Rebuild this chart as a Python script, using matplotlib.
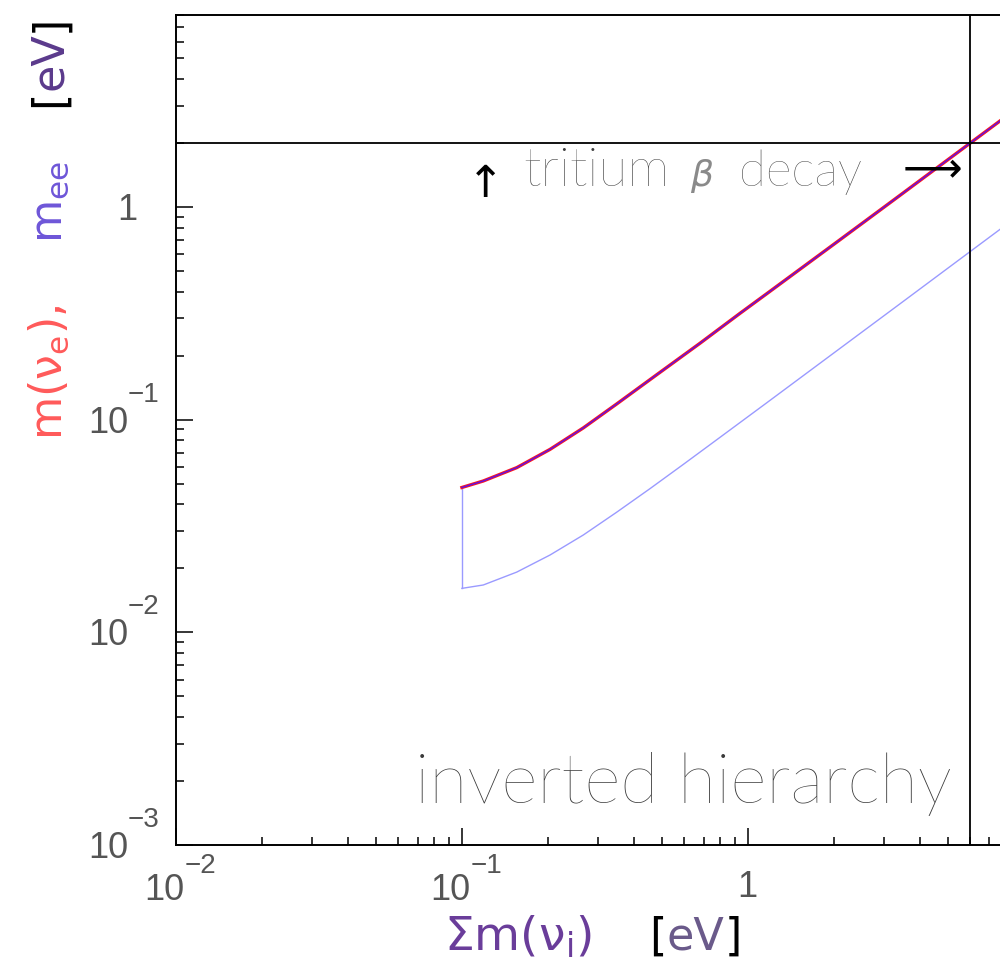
import numpy as np
import matplotlib
matplotlib.use("Agg")
import matplotlib.pyplot as plt
from matplotlib.ticker import LogLocator, NullFormatter

# inverted hierarchy
sum_upper = [0.1, 0.1188, 0.1555, 0.2033, 0.2659, 0.3476, 0.481, 0.681, 0.938, 1.164, 1.99, 2.62, 3.4, 5.97, 7.6, 8.0]
m_nue = [0.048, 0.0515, 0.0595, 0.0725, 0.0915, 0.1185, 0.163, 0.229, 0.316, 0.391, 0.665, 0.874, 1.133, 1.99, 2.533, 2.667]

sum_lower = [0.1, 0.1188, 0.1555, 0.2033, 0.2659, 0.3476, 0.4549, 0.5946, 0.738, 1.164, 1.99, 3.4, 5.98, 7.62, 8.0]
mee_min = [0.0161, 0.0167, 0.0192, 0.0231, 0.0287, 0.0367, 0.0474, 0.0616, 0.0763, 0.120, 0.205, 0.350, 0.616, 0.785, 0.824]

edge_sum = [0.1, 0.1]
edge_m = [0.048, 0.0161]

tritium_limit = 2.0      # eV
tritium_sum = 6.0        # eV, where m(nu_e) reaches the limit

x_major = [0.01, 0.1, 1]
y_major = [0.001, 0.01, 0.1, 1]

plt.rcParams['font.family'] = ['DejaVu Sans']
plt.rcParams['mathtext.fontset'] = 'dejavusans'
plt.rcParams['mathtext.default'] = 'regular'

W, H = 1000, 968
fig = plt.figure(figsize=(10, 9.68), dpi=100)
ax = fig.add_axes([176 / W, 123 / H, 830 / W, 830 / H])

ax.set_xscale('log')
ax.set_yscale('log')
ax.set_xlim(0.01, 8)
ax.set_ylim(0.001, 8)

# m_ee band outline and m(nu_e)
ax.plot(edge_sum, edge_m, color='#9a9aff', lw=1.0)
ax.plot(sum_lower, mee_min, color='#9a9aff', lw=1.0)
ax.plot(sum_upper, m_nue, color='#ff1a1a', lw=2.4)
ax.plot(sum_upper, m_nue, color='#4a10ff', lw=1.1, alpha=0.85)

ax.axhline(tritium_limit, color='black', lw=1.3)
ax.axvline(tritium_sum, color='black', lw=1.3)

for axis in (ax.xaxis, ax.yaxis):
    axis.set_major_locator(LogLocator(base=10, numticks=20))
    axis.set_minor_locator(LogLocator(base=10, subs=np.arange(2, 10), numticks=20))
    axis.set_minor_formatter(NullFormatter())

ax.tick_params(which='both', direction='in', top=False, right=False, color='black',
               labelbottom=False, labelleft=False)
ax.tick_params(which='major', length=12, width=1.1)
ax.tick_params(which='minor', length=6, width=1.1)
for sp in ax.spines.values():
    sp.set_linewidth(1.4)

# ROOT-style tick labels: "10" with a high exponent
tick_font = dict(family='Liberation Sans', color='#555555')
xt = ax.get_xaxis_transform()
for v in x_major:
    if v == 1:
        ax.annotate('1', xy=(v, 0), xycoords=xt, xytext=(0, -52), textcoords='offset pixels',
                    ha='center', va='baseline', fontsize=26, **tick_font)
    else:
        ax.annotate('10', xy=(v, 0), xycoords=xt, xytext=(8, -55), textcoords='offset pixels',
                    ha='right', va='baseline', fontsize=26, **tick_font)
        ax.annotate('\u2212%d' % -int(round(np.log10(v))), xy=(v, 0), xycoords=xt,
                    xytext=(9, -28), textcoords='offset pixels',
                    ha='left', va='baseline', fontsize=20, **tick_font)

yt = ax.get_yaxis_transform()
for v in y_major:
    if v == 1:
        ax.annotate('1', xy=(0, v), xycoords=yt, xytext=(-39, -13), textcoords='offset pixels',
                    ha='right', va='baseline', fontsize=26, **tick_font)
    else:
        ax.annotate('10', xy=(0, v), xycoords=yt, xytext=(-48, -13), textcoords='offset pixels',
                    ha='right', va='baseline', fontsize=26, **tick_font)
        ax.annotate('\u2212%d' % -int(round(np.log10(v))), xy=(0, v), xycoords=yt,
                    xytext=(-48, 18), textcoords='offset pixels',
                    ha='left', va='baseline', fontsize=20, **tick_font)

fig.canvas.draw()
rend = fig.canvas.get_renderer()


def place(s, x, y, size, color, rot=0, **kw):
    return fig.text(x / W, 1 - y / H, s, fontsize=size, color=color, rotation=rot,
                    rotation_mode='anchor', ha='left', va='baseline', **kw)


def extent(t, rot):
    bb = t.get_window_extent(rend)
    return bb.width if rot == 0 else bb.height


def fit(s, x0, x1, base, color, size0=30, **kw):
    # font size chosen so the text spans x0..x1 (pixels)
    t = place(s, x0, base, size0, color, **kw)
    t.set_fontsize(size0 * (x1 - x0) / extent(t, 0))
    return t


def chain(pieces, pos, base, size, rot=0):
    for s, c in pieces:
        if rot == 0:
            t = place(s, pos, base, size, c)
            pos += extent(t, rot)
        else:
            t = place(s, base, pos, size, c, rot)
            pos -= extent(t, rot)


# annotations
place('↑', 467, 197, 32, 'black')
fit('tritium', 523, 670, 186, '#3c3c3c', family='Lato', fontweight='light')
place(r'$\mathit{\beta}$', 690, 186, 26, '#8a8a8a')
fit('decay', 739, 862, 186, '#3c3c3c', family='Lato', fontweight='light')
fig.text(962 / W, 1 - 169 / H, '⟶', fontsize=30, color='black', ha='right', va='center')
fit('inverted hierarchy', 415, 952, 803, '#3a3a3a', family='Lato', fontweight='light')

# axis titles built from coloured pieces
chain([(r'$\Sigma m(\nu_i)$', '#6a3d9a')], 444, 950, 34)
chain([('[', 'black'), ('eV', '#6a5a8a'), (']', 'black')], 649, 950, 32)

chain([(r'$m(\nu_e),$', '#ff5a5a')], 440, 62, 32, rot=90)
chain([(r'$m_{ee}$', '#6e56d8')], 243, 62, 32, rot=90)
chain([('[', 'black'), ('eV', '#5b3a8c'), (']', 'black')], 107, 62, 32, rot=90)

fig.savefig('out.png', dpi=100)
